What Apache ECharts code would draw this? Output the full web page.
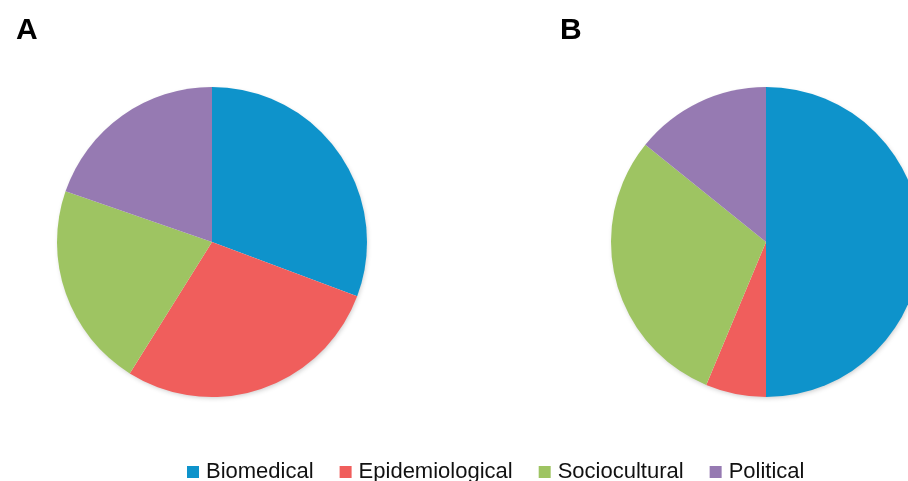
<!DOCTYPE html>
<html>
<head>
<meta charset="utf-8">
<script src="https://cdn.jsdelivr.net/npm/echarts@6/dist/echarts.min.js"></script>
<style>html,body{margin:0;padding:0;background:#fff;}#c{width:908px;height:481px;}</style>
</head>
<body>
<div id="c"></div>
<script>
const categories = ['Biomedical', 'Epidemiological', 'Sociocultural', 'Political'];
const valuesA = [30.7, 28.2, 21.4, 19.7];
const valuesB = [50.0, 6.3, 29.5, 14.2];
const colors = ['#0E93CB', '#F05E5C', '#9EC462', '#967AB2'];

const chart = echarts.init(document.getElementById('c'), null, {renderer: 'canvas'});
function pieData(vals) {
  return categories.map((n, i) => ({name: n, value: vals[i]}));
}
const pieCommon = {
  type: 'pie',
  radius: 155,
  startAngle: 90,
  clockwise: true,
  label: {show: false},
  labelLine: {show: false},
  emphasis: {disabled: true},
  animation: false,
  itemStyle: {borderWidth: 0}
};
chart.setOption({
  color: colors,
  animation: false,
  graphic: [
    {type: 'circle', shape: {cx: 212, cy: 242, r: 154}, z: -1, style: {fill: '#fff', shadowBlur: 5, shadowColor: 'rgba(0,0,0,0.22)', shadowOffsetX: 1, shadowOffsetY: 2}},
    {type: 'circle', shape: {cx: 766, cy: 242, r: 154}, z: -1, style: {fill: '#fff', shadowBlur: 5, shadowColor: 'rgba(0,0,0,0.22)', shadowOffsetX: 1, shadowOffsetY: 2}}
  ],
  title: [
    {text: 'A', left: 11, top: 11, textStyle: {fontFamily: 'Liberation Sans, Arial', fontWeight: 'bold', fontSize: 30, color: '#000'}},
    {text: 'B', left: 555, top: 11, textStyle: {fontFamily: 'Liberation Sans, Arial', fontWeight: 'bold', fontSize: 30, color: '#000'}}
  ],
  legend: {
    data: categories,
    left: 182,
    top: 456,
    icon: 'rect',
    itemWidth: 12,
    itemHeight: 12,
    itemGap: 26,
    textStyle: {fontFamily: 'Liberation Sans, Arial', fontSize: 22, color: '#111', padding: [0, 0, 0, 2]}
  },
  series: [
    Object.assign({}, pieCommon, {name: 'A', center: [212, 242], data: pieData(valuesA)}),
    Object.assign({}, pieCommon, {name: 'B', center: [766, 242], data: pieData(valuesB)})
  ]
});
</script>
</body>
</html>
